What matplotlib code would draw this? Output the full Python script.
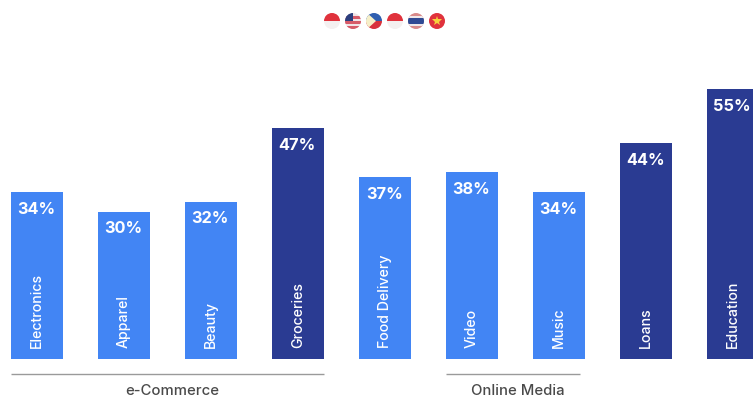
import matplotlib
matplotlib.use('Agg')
import matplotlib.pyplot as plt
from matplotlib.patches import Circle, Rectangle, Polygon

plt.rcParams['font.family'] = ['Inter', 'DejaVu Sans']

categories = ['Electronics', 'Apparel', 'Beauty', 'Groceries', 'Food Delivery',
              'Video', 'Music', 'Loans', 'Education']
values = [34, 30, 32, 47, 37, 38, 34, 44, 55]
highlight = ['Groceries', 'Loans', 'Education']
groups = [('e-Commerce', 0, 3), ('Online Media', 5, 6)]

BLUE = '#4285f4'
NAVY = '#2a3b92'
W, H = 753, 398
BASE_Y = 358.5
PX_PER_PCT = 4.9
STEP = 87
FIRST = 37
BAR_W = 52

fig = plt.figure(figsize=(W / 100, H / 100), dpi=100)
ax = fig.add_axes([0, 0, 1, 1])
ax.set_xlim(-FIRST / STEP, (W - FIRST) / STEP)
ax.set_ylim(-(H - BASE_Y) / PX_PER_PCT, BASE_Y / PX_PER_PCT)
ax.axis('off')

bw = BAR_W / STEP
colors = [NAVY if c in highlight else BLUE for c in categories]
ax.bar(range(len(values)), values, width=bw, color=colors, linewidth=0)

for i, (cat, val) in enumerate(zip(categories, values)):
    ax.text(i - 0.01, val - 3.5, f'{val}%', color='white', fontsize=11.8,
            fontweight='bold', ha='center', va='center')
    ax.text(i, 2.1, cat, color='white', fontsize=10.2, fontweight='medium',
            rotation=90, ha='center', va='bottom')

# group brackets under the bars
for name, start, end in groups:
    x0, x1 = start - bw / 2, end + bw / 2
    if name == 'Online Media':
        x1 -= 5 / STEP
    ax.plot([x0, x1], [-3.15, -3.15], color='#9a9a9a', lw=1, solid_capstyle='butt')
    ax.text((x0 + x1) / 2 + 5 / STEP, -6.6, name, color='#4a4a4a', fontsize=10.7,
            fontweight='medium', ha='center', va='center')

# market flags, drawn in pixel space
flag_ax = fig.add_axes([0, 0, 1, 1], facecolor='none')
flag_ax.set_xlim(0, W)
flag_ax.set_ylim(H, 0)
flag_ax.axis('off')

RED = '#e0323c'
R = 8
CY = 21


def round_flag(cx, parts):
    clip = Circle((cx, CY), R, transform=flag_ax.transData)
    for p in parts:
        flag_ax.add_patch(p)
        p.set_clip_path(clip)


def band(cx, top, bottom, color):
    return Rectangle((cx - R, CY - R + top * 2 * R), 2 * R, (bottom - top) * 2 * R,
                     color=color, lw=0)


round_flag(332, [band(332, 0, .5, RED), band(332, .5, 1, '#f4f0f0')])
round_flag(353, [band(353, 0, 1, '#f0e4e6'), band(353, .2, .36, '#d65a68'),
                 band(353, .52, .68, '#d65a68'), band(353, .84, 1, '#d65a68'),
                 Rectangle((345, 13), 8, 8, color='#2b3f7e', lw=0)])
round_flag(374, [band(374, 0, .5, '#2f5fb0'), band(374, .5, 1, '#d8323c'),
                 Polygon([(366, 12), (366, 30), (376, 21)], color='#f6efc8', lw=0)])
round_flag(395, [band(395, 0, .5, RED), band(395, .5, 1, '#f4f0f0')])
round_flag(416, [band(416, 0, 1, '#d88a8a'), band(416, .17, .83, '#efe8ea'),
                 band(416, .33, .67, '#2f4a94')])
round_flag(437, [band(437, 0, 1, RED)])
flag_ax.plot([437], [21], marker='*', ms=7, color='#f6d23c', mew=0)

fig.savefig('out.png', dpi=100)
